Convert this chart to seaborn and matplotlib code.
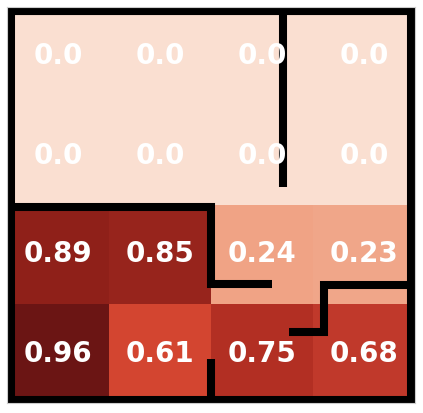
import numpy as np
import pandas as pd
import seaborn as sns
import matplotlib
matplotlib.use("Agg")
import matplotlib.pyplot as plt
from matplotlib.colors import LinearSegmentedColormap

# ---- data ----
values = [
    [0.0, 0.0, 0.0, 0.0],
    [0.0, 0.0, 0.0, 0.0],
    [0.89, 0.85, 0.24, 0.23],
    [0.96, 0.61, 0.75, 0.68],
]
labels = [
    ["0.0", "0.0", "0.0", "0.0"],
    ["0.0", "0.0", "0.0", "0.0"],
    ["0.89", "0.85", "0.24", "0.23"],
    ["0.96", "0.61", "0.75", "0.68"],
]

# wall polylines in cell coordinates (x right, y down)
outer_wall = [(0.04, 0.04), (3.965, 0.04), (3.965, 3.965), (0.04, 3.965),
              (0.04, 0.04), (3.965, 0.04)]
walls = [
    [(2.71, 0.04), (2.71, 1.82)],
    [(0.04, 2.02), (2.0, 2.02), (2.0, 2.8), (2.595, 2.8)],
    [(3.965, 2.81), (3.11, 2.81), (3.11, 3.28), (2.76, 3.28)],
    [(2.0, 3.56), (2.0, 3.965)],
]

# ---- colormap (observed cell colours) ----
anchors = [
    (0.0, "#fadfd1"), (0.23, "#f0a588"), (0.24, "#f0a385"),
    (0.61, "#d44530"), (0.68, "#c0392b"), (0.75, "#b32f23"),
    (0.85, "#97241c"), (0.89, "#8f2019"), (0.96, "#6b1514"), (1.0, "#641010"),
]
cmap = LinearSegmentedColormap.from_list("cells", anchors)

df = pd.DataFrame(values)
fig = plt.figure(figsize=(4.23, 4.13), dpi=100)
ax = fig.add_axes([7 / 423, 10 / 413, 408 / 423, 396 / 413])
sns.heatmap(df, ax=ax, cmap=cmap, vmin=0, vmax=1, cbar=False,
            annot=np.array(labels), fmt="",
            annot_kws={"color": "white", "fontsize": 20, "fontweight": "bold"},
            xticklabels=False, yticklabels=False)

lw = 5.8
for poly in [outer_wall] + walls:
    xs, ys = zip(*poly)
    ax.plot(xs, ys, color="black", lw=lw, solid_capstyle="butt",
            solid_joinstyle="miter", zorder=2)

for s in ax.spines.values():
    s.set_visible(True)
    s.set_color("#cccccc")
    s.set_linewidth(0.8)
ax.set_xlabel("")
ax.set_ylabel("")
ax.tick_params(length=0)

fig.savefig("out.png", dpi=100)
